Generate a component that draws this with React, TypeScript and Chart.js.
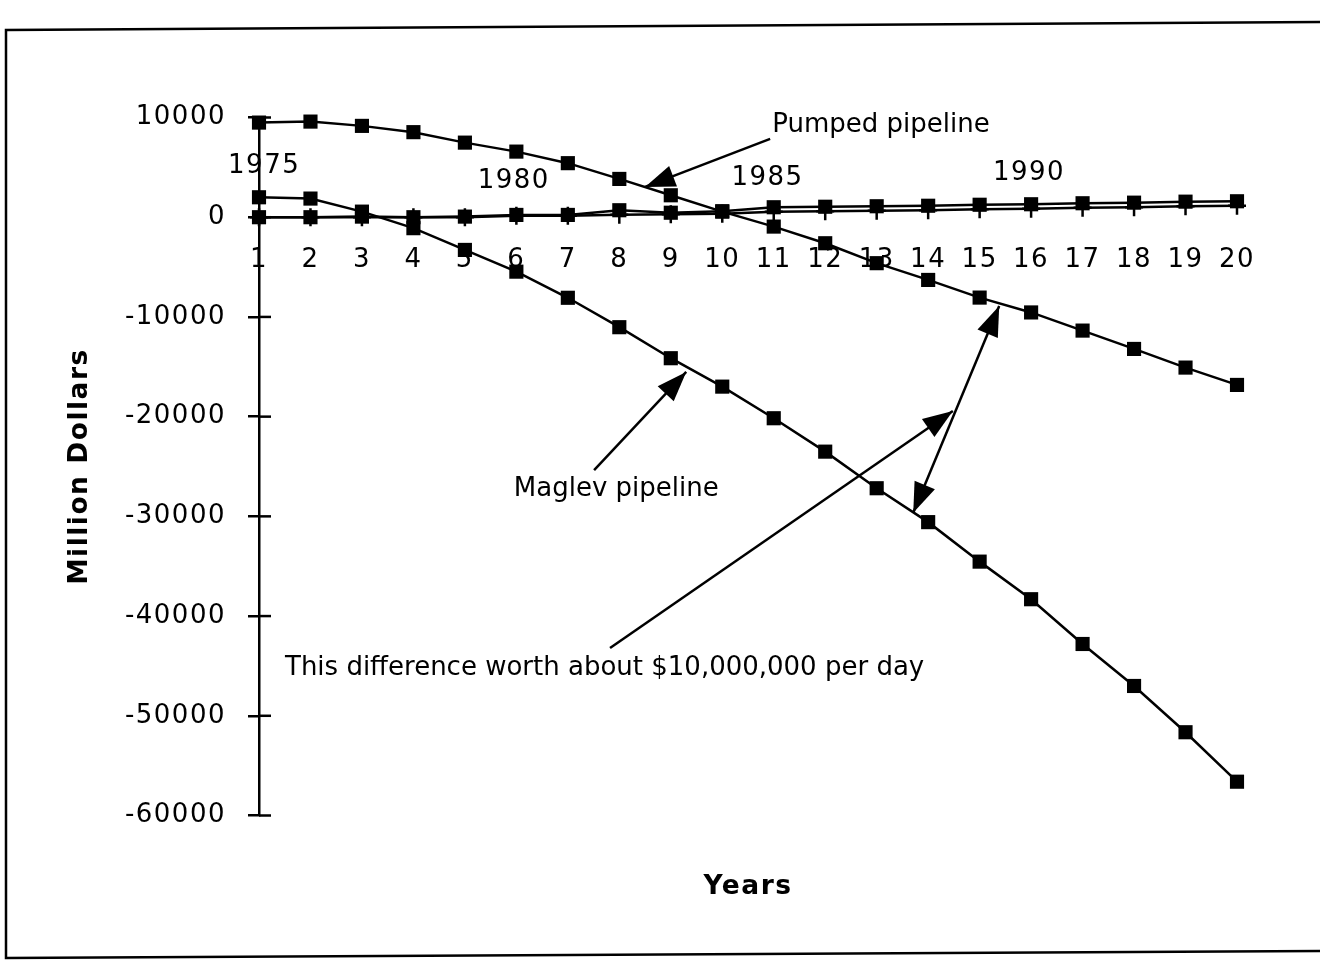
import React, { useEffect, useRef } from 'react';
import { Chart, registerables } from 'chart.js';

Chart.register(...registerables);

// ---- data ----
const yearIndex = ['1', '2', '3', '4', '5', '6', '7', '8', '9', '10', '11', '12', '13', '14', '15', '16', '17', '18', '19', '20'];
const pumpedPipeline = [9490, 9590, 9160, 8530, 7480, 6580, 5420, 3840, 2200, 560, -940, -2610, -4610, -6290, -8060, -9550, -11370, -13210, -15080, -16820];
const maglevPipeline = [2000, 1870, 560, -1100, -3280, -5460, -8080, -11030, -14140, -16990, -20160, -23510, -27180, -30580, -34540, -38310, -42800, -47010, -51650, -56610];
const baseSquares = [0, 0, 60, 0, 60, 230, 230, 700, 450, 600, 1000, 1050, 1100, 1150, 1250, 1300, 1400, 1460, 1560, 1600];
const basePlus = [0, 0, 0, 0, 0, 150, 150, 250, 300, 350, 550, 600, 650, 700, 800, 850, 950, 1010, 1110, 1150];
const yTickValues = [10000, 0, -10000, -20000, -30000, -40000, -50000, -60000];
const yearNotes = ['1975', '1980', '1985', '1990'];

// ---- annotation placement (in data coordinates: category index, value) ----
const yearNoteAt: [number, number][] = [[0.1, 5075], [4.95, 3570], [9.88, 3940], [14.96, 4410]];
const textNotes = [
  { text: 'Pumped pipeline', at: [9.97, 8550] },
  { text: 'Maglev pipeline', at: [4.95, -27950] },
  { text: 'This difference worth about $10,000,000 per day', at: [0.505, -45900] },
];
const arrowNotes = [
  { from: [9.93, 7850], to: [7.5, 3040], both: false },
  { from: [6.51, -25360], to: [8.3, -15520], both: false },
  { from: [6.82, -43200], to: [13.48, -19430], both: false },
  { from: [12.71, -29640], to: [14.38, -8900], both: true },
];

const FONT = '"DejaVu Sans", Verdana, sans-serif';

function drawHead(ctx: CanvasRenderingContext2D, fx: number, fy: number, tx: number, ty: number) {
  const a = Math.atan2(ty - fy, tx - fx);
  const L = 30;
  const W = 11;
  const bx = tx - L * Math.cos(a);
  const by = ty - L * Math.sin(a);
  ctx.beginPath();
  ctx.moveTo(tx, ty);
  ctx.lineTo(bx + W * Math.sin(a), by - W * Math.cos(a));
  ctx.lineTo(bx - W * Math.sin(a), by + W * Math.cos(a));
  ctx.closePath();
  ctx.fill();
}

const notesPlugin = {
  id: 'notes',
  beforeDraw(chart: any) {
    const ctx = chart.ctx as CanvasRenderingContext2D;
    ctx.save();
    ctx.strokeStyle = '#000';
    ctx.lineWidth = 2.5;
    ctx.beginPath();
    ctx.moveTo(1320, 22);
    ctx.lineTo(6, 30);
    ctx.lineTo(6, 958);
    ctx.lineTo(1320, 951);
    ctx.stroke();
    ctx.restore();
    (ctx as any).letterSpacing = '1.5px';
  },
  afterDraw(chart: any) {
    const ctx = chart.ctx as CanvasRenderingContext2D;
    const xs = chart.scales.x;
    const ys = chart.scales.y;
    const px = (i: number) => xs.getPixelForValue(i);
    const py = (v: number) => ys.getPixelForValue(v);
    ctx.save();
    ctx.strokeStyle = '#000';
    ctx.fillStyle = '#000';
    ctx.lineWidth = 2.5;
    // inner half of y tick marks
    const left = chart.chartArea.left;
    yTickValues.forEach((v) => {
      const y = py(v);
      ctx.beginPath();
      ctx.moveTo(left, y);
      ctx.lineTo(left + 12, y);
      ctx.stroke();
    });
    // arrows
    arrowNotes.forEach((a) => {
      const x1 = px(a.from[0]);
      const y1 = py(a.from[1]);
      const x2 = px(a.to[0]);
      const y2 = py(a.to[1]);
      ctx.beginPath();
      ctx.moveTo(x1, y1);
      ctx.lineTo(x2, y2);
      ctx.stroke();
      drawHead(ctx, x1, y1, x2, y2);
      if (a.both) drawHead(ctx, x2, y2, x1, y1);
    });
    // texts
    (ctx as any).letterSpacing = '0px';
    ctx.font = `26px ${FONT}`;
    ctx.textAlign = 'left';
    ctx.textBaseline = 'alphabetic';
    textNotes.forEach((t) => {
      ctx.fillText(t.text, px(t.at[0]), py(t.at[1]));
    });
    (ctx as any).letterSpacing = '1.5px';
    ctx.textAlign = 'center';
    ctx.textBaseline = 'middle';
    yearNotes.forEach((label, i) => {
      const [ix, v] = yearNoteAt[i];
      ctx.fillText(label, px(ix), py(v));
    });
    ctx.restore();
    (ctx as any).letterSpacing = '0px';
  },
};

export default function App() {
  const ref = useRef<HTMLCanvasElement | null>(null);

  useEffect(() => {
    if (!ref.current) return;
    const squareStyle = {
      borderColor: '#000',
      backgroundColor: '#000',
      borderWidth: 2.5,
      pointStyle: 'rect' as const,
      pointRadius: 10,
      pointBackgroundColor: '#000',
      pointBorderWidth: 0,
      tension: 0,
      clip: false as const,
    };
    const chart = new Chart(ref.current, {
      type: 'line',
      data: {
        labels: yearIndex,
        datasets: [
          { label: 'Base (plus)', data: basePlus, borderColor: '#000', borderWidth: 2.5, pointStyle: 'cross', pointRadius: 9, pointBorderColor: '#000', pointBorderWidth: 2.5, tension: 0, clip: false },
          { label: 'Base', data: baseSquares, ...squareStyle },
          { label: 'Pumped pipeline', data: pumpedPipeline, ...squareStyle },
          { label: 'Maglev pipeline', data: maglevPipeline, ...squareStyle },
        ],
      },
      options: {
        responsive: false,
        animation: false,
        events: [],
        layout: { autoPadding: false, padding: { left: 50, top: 117.5, right: 83, bottom: 55.5 } },
        plugins: { legend: { display: false }, tooltip: { enabled: false }, title: { display: false } },
        scales: {
          x: {
            type: 'category',
            position: { y: 0 } as any,
            offset: false,
            grid: { display: false, drawTicks: false },
            border: { display: false },
            ticks: { color: '#000', font: { family: FONT, size: 26 }, padding: 27, autoSkip: false, maxRotation: 0, minRotation: 0 },
            afterFit: (s: any) => { s.height = 0; },
          },
          x2: {
            type: 'category',
            position: 'bottom',
            offset: false,
            grid: { display: false, drawTicks: false },
            border: { display: false },
            ticks: { display: false },
            title: { display: true, text: 'Years', color: '#000', font: { family: FONT, size: 26.5, weight: 'bold' }, padding: { top: 0, bottom: 2.6 } },
            afterFit: (s: any) => { s.height = 90; },
          },
          y: {
            type: 'linear',
            position: 'left',
            min: -60000,
            max: 10000,
            afterBuildTicks: (s: any) => { s.ticks = yTickValues.map((v) => ({ value: v })); },
            ticks: { color: '#000', font: { family: FONT, size: 26 }, padding: 22, callback: (v: any) => String(v) },
            grid: { display: true, drawOnChartArea: false, drawTicks: true, tickLength: 11, color: '#000', lineWidth: 2.5 },
            border: { display: true, color: '#000', width: 2.5 },
            title: { display: true, text: 'Million Dollars', color: '#000', font: { family: FONT, size: 26.5, weight: 'bold' }, padding: { top: 14, bottom: 0 } },
            afterFit: (s: any) => { s.width = 209; },
          },
        },
      },
      plugins: [notesPlugin],
    });
    return () => chart.destroy();
  }, []);

  return (
    <div style={{ position: 'absolute', left: 0, top: 0, width: 1320, height: 961, background: '#fff' }}>
      <canvas ref={ref} width={1320} height={961} style={{ display: 'block', width: 1320, height: 961 }} />
    </div>
  );
}
